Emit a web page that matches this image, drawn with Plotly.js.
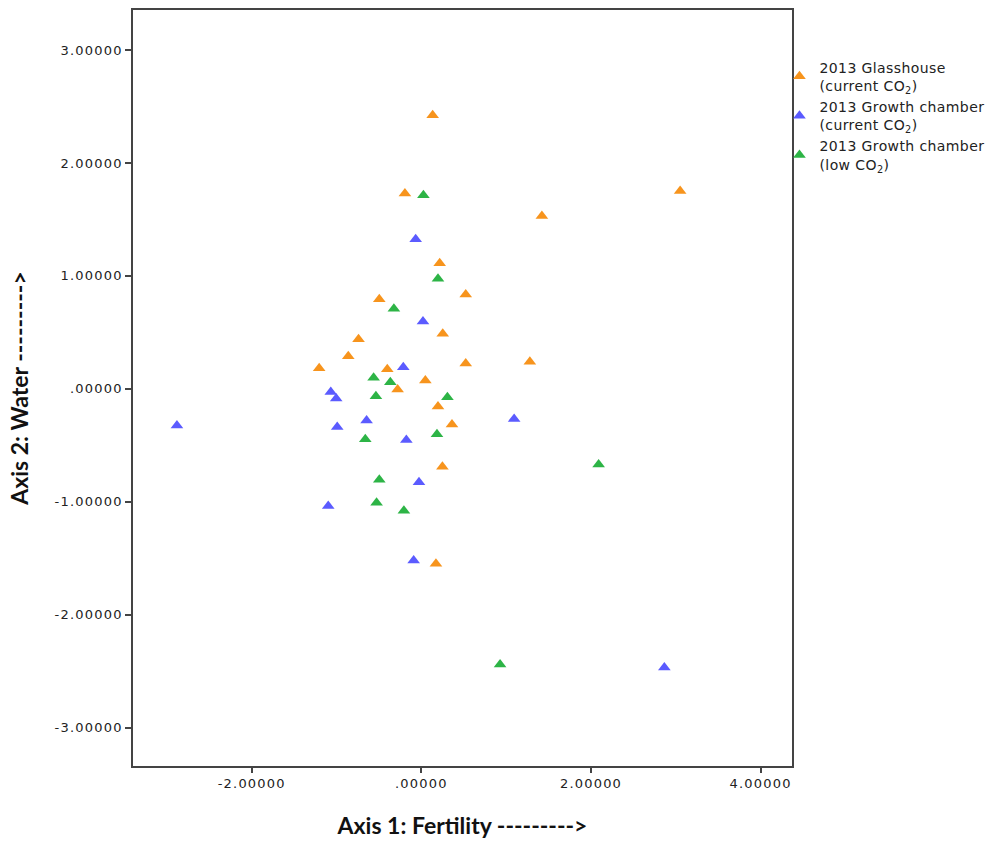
<!DOCTYPE html>
<html>
<head>
<meta charset="utf-8">
<script src="https://cdn.plot.ly/plotly-3.0.1.min.js"></script>
<style>
  html, body { margin: 0; padding: 0; background: #fff; }
  #chart { width: 1002px; height: 843px; }
  .xtick text, .ytick text { letter-spacing: 1.2px; }
  .legendtext { letter-spacing: 0.4px; }
</style>
</head>
<body>
<div id="chart"></div>
<script>
// Series names
const seriesNames = [
  "2013 Glasshouse<br>(current CO<sub>2</sub>)",
  "2013 Growth chamber<br>(current CO<sub>2</sub>)",
  "2013 Growth chamber<br>(low CO<sub>2</sub>)"
];

// Glasshouse (current CO2)
const glassX = [0.133, -0.194, 3.051, 1.421, 0.216, 0.523, -0.496, 0.252, -0.741, -0.862,
                -1.205, -0.402, 0.523, 1.279, -0.280, 0.047, 0.196, 0.361, 0.248, 0.172];
const glassY = [2.423, 1.729, 1.752, 1.530, 1.113, 0.836, 0.794, 0.488, 0.440, 0.289,
                0.183, 0.174, 0.224, 0.239, -0.006, 0.074, -0.157, -0.316, -0.689, -1.549];

// Growth chamber (current CO2)
const chamberCurX = [-0.067, 0.019, -0.213, -1.068, -1.004, -2.882, -0.992, -0.646, 1.094,
                     -0.177, -0.028, -1.098, -0.091, 2.865];
const chamberCurY = [1.324, 0.597, 0.191, -0.027, -0.086, -0.325, -0.337, -0.281, -0.266,
                     -0.452, -0.828, -1.037, -1.520, -2.468];

// Growth chamber (low CO2)
const chamberLowX = [0.024, 0.196, -0.324, -0.563, -0.366, -0.536, 0.307, -0.661, 0.184,
                     2.090, -0.496, -0.528, -0.206, 0.928];
const chamberLowY = [1.714, 0.975, 0.709, 0.098, 0.059, -0.066, -0.074, -0.447, -0.402,
                     -0.671, -0.804, -1.008, -1.079, -2.441];

// Tick labels
const xTickVals = [-2, 0, 2, 4];
const xTickText = ["-2.00000", ".00000", "2.00000", "4.00000"];
const yTickVals = [-3, -2, -1, 0, 1, 2, 3];
const yTickText = ["-3.00000", "-2.00000", "-1.00000", ".00000", "1.00000", "2.00000", "3.00000"];

const colors = ["#F7941D", "#5B5BFF", "#2DB446"];

function mk(x, y, i) {
  return {
    type: "scatter", mode: "markers", x: x, y: y, name: seriesNames[i],
    marker: { symbol: "triangle-up", size: 11, color: colors[i], line: { width: 0 } },
    hoverinfo: "x+y"
  };
}

const data = [
  mk(glassX, glassY, 0),
  mk(chamberCurX, chamberCurY, 1),
  mk(chamberLowX, chamberLowY, 2)
];

const axisCommon = {
  showgrid: false, zeroline: false,
  showline: true, mirror: true, linecolor: "#444", linewidth: 1.5,
  ticks: "outside", ticklen: 6, tickwidth: 1.5, tickcolor: "#444",
  tickfont: { family: "DejaVu Sans, sans-serif", size: 13, color: "#222" }
};

const layout = {
  width: 1002, height: 843,
  paper_bgcolor: "#fff", plot_bgcolor: "#fff",
  margin: { l: 133, r: 210, t: 10, b: 77, autoexpand: false },
  showlegend: true,
  xaxis: Object.assign({}, axisCommon, {
    range: [-3.40, 4.37],
    ticklen: 5,
    tickmode: "array", tickvals: xTickVals, ticktext: xTickText,
    title: { text: "Axis 1: Fertility --------->", standoff: 28,
             font: { family: "Lato, sans-serif", size: 23, color: "#111", weight: "bold" } }
  }),
  yaxis: Object.assign({}, axisCommon, {
    range: [-3.34, 3.355],
    tickmode: "array", tickvals: yTickVals, ticktext: yTickText,
    title: { text: "Axis 2: Water --------->", standoff: 20,
             font: { family: "Lato, sans-serif", size: 23, color: "#111", weight: "bold" } }
  }),
  legend: {
    x: 0.981, xanchor: "left", y: 0.945, yanchor: "top",
    bgcolor: "rgba(0,0,0,0)", borderwidth: 0,
    font: { family: "DejaVu Sans, sans-serif", size: 14, color: "#222" },
    itemwidth: 30, valign: "middle", tracegroupgap: 0
  }
};

Plotly.newPlot("chart", data, layout, { displayModeBar: false, responsive: false });
</script>
</body>
</html>
